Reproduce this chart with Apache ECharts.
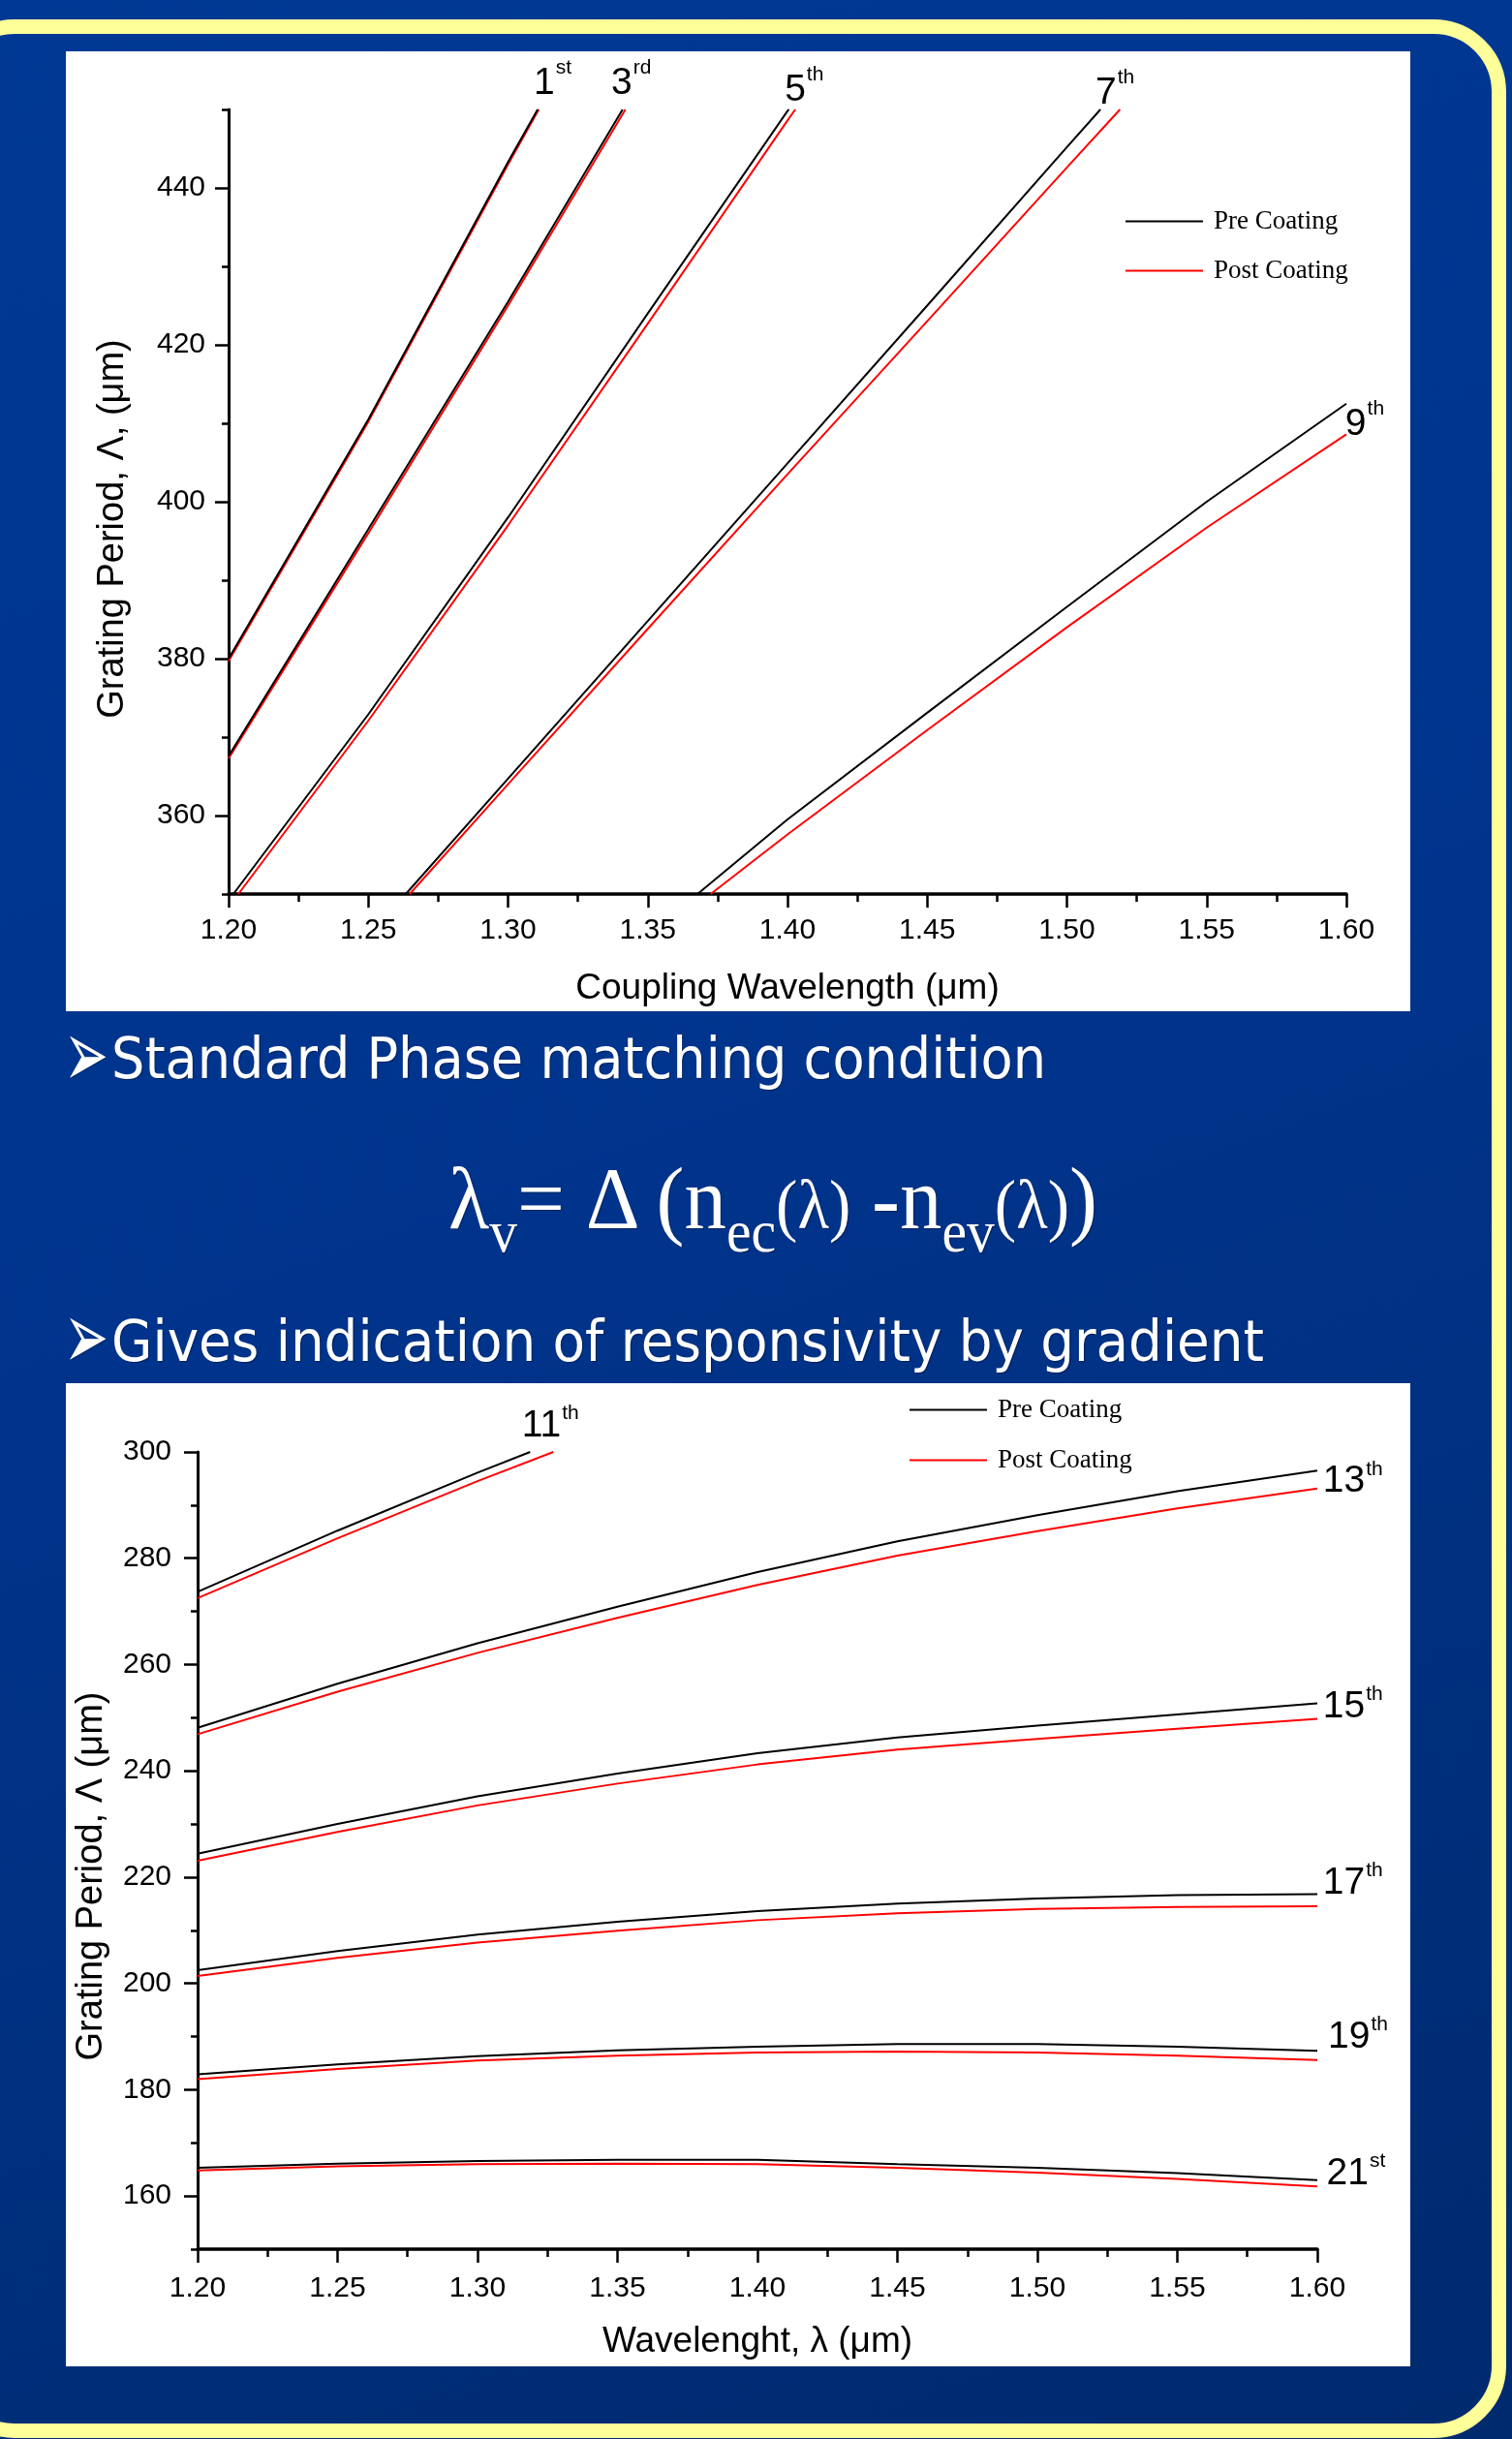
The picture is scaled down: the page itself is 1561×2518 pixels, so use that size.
<!DOCTYPE html>
<html><head><meta charset="utf-8">
<script src="https://cdn.jsdelivr.net/npm/echarts@6/dist/echarts.min.js"></script>
<style>
html,body{margin:0;padding:0;}
body{width:1561px;height:2518px;overflow:hidden;position:relative;background:linear-gradient(160deg,#003995 0%,#00348d 45%,#002a6e 100%);}
#frame{position:absolute;left:-60px;top:20px;width:1615px;height:2497px;box-sizing:border-box;border:15px solid #ffff99;border-radius:75px;}
.panel{position:absolute;background:#fff;}
.txt{position:absolute;color:#fff;white-space:nowrap;transform-origin:0 0;text-shadow:1px 1px 1px rgba(0,0,0,0.35);}
.bul{font-family:'DejaVu Sans Condensed','DejaVu Sans',sans-serif;font-size:59px;line-height:59px;}
.arr{font-family:'DejaVu Sans',sans-serif;font-size:98px;line-height:98px;}
.fm{font-family:'Liberation Serif','Times New Roman',serif;font-size:92px;line-height:92px;}
.sb{font-size:61px;position:relative;top:24px;}
.sm{font-size:71px;}
</style></head>
<body>
<div id="frame"></div>
<div id="p1" class="panel" style="left:68px;top:53px;width:1388px;height:991px"></div>
<div id="p2" class="panel" style="left:68px;top:1428px;width:1388px;height:1015px"></div>
<div id="a1" class="txt arr" style="left:66px;top:1039px">➢</div>
<div id="t1" class="txt bul" style="left:115px;top:1063px">Standard Phase matching condition</div>
<div id="fm" class="txt fm" style="left:463px;top:1191px">λ<span class="sb">v</span>= Δ (n<span class="sb">ec</span><span class="sm">(λ)</span> -n<span class="sb">ev</span><span class="sm">(λ)</span>)</div>
<div id="a2" class="txt arr" style="left:66px;top:1330px">➢</div>
<div id="t2" class="txt bul" style="left:115px;top:1355px">Gives indication of responsivity by gradient</div>
<script>
// ---------------- DATA ----------------
const xTicks = [1.20, 1.25, 1.30, 1.35, 1.40, 1.45, 1.50, 1.55, 1.60];
const xMinor = [1.225, 1.275, 1.325, 1.375, 1.425, 1.475, 1.525, 1.575];
const yTicks1 = [360, 380, 400, 420, 440];
const yMinor1 = [350, 370, 390, 410, 430, 450];
const yTicks2 = [160, 180, 200, 220, 240, 260, 280, 300];
const yMinor2 = [150, 170, 190, 210, 230, 250, 270, 290];

// Chart 1: Coupling wavelength (um) vs grating period (um), orders 1-9
const pre1  = [[1.20,380.0],[1.25,410.5],[1.30,443.3],[1.3106,450]];
const post1 = [[1.20,379.7],[1.25,410.2],[1.30,443.0],[1.3110,450]];
const pre3  = [[1.20,367.6],[1.25,396.5],[1.30,425.5],[1.341,450]];
const post3 = [[1.20,367.3],[1.25,396.0],[1.30,425.0],[1.342,450]];
const pre5  = [[1.2017,350],[1.25,372.9],[1.30,398.0],[1.35,424.0],[1.40,449.8],[1.4005,450]];
const post5 = [[1.2035,350],[1.25,372.1],[1.30,397.0],[1.35,422.7],[1.40,448.6],[1.4028,450]];
const pre7  = [[1.2634,350],[1.30,364.7],[1.35,384.8],[1.40,404.9],[1.45,425.0],[1.50,445.2],[1.512,450]];
const post7 = [[1.2648,350],[1.30,364.0],[1.35,383.8],[1.40,403.5],[1.45,423.0],[1.50,442.6],[1.519,450]];
const pre9  = [[1.3678,350],[1.40,359.5],[1.45,373.1],[1.50,386.6],[1.55,400.0],[1.60,412.5]];
const post9 = [[1.3725,350],[1.40,357.6],[1.45,370.9],[1.50,384.0],[1.55,396.7],[1.60,408.6]];

// Chart 2: wavelength (um) vs grating period (um), orders 11-21
const pre11  = [[1.20,273.7],[1.25,285.2],[1.30,296.1],[1.3188,300]];
const post11 = [[1.20,272.5],[1.25,283.75],[1.30,294.5],[1.3271,300]];
const pre13  = [[1.20,248.1],[1.25,256.4],[1.30,264.0],[1.35,270.9],[1.40,277.4],[1.45,283.2],[1.50,288.1],[1.55,292.6],[1.60,296.5]];
const post13 = [[1.20,246.9],[1.25,254.9],[1.30,262.2],[1.35,268.8],[1.40,275.0],[1.45,280.5],[1.50,285.1],[1.55,289.4],[1.60,293.1]];
const pre15  = [[1.20,224.4],[1.25,230.0],[1.30,235.2],[1.35,239.5],[1.40,243.3],[1.45,246.3],[1.50,248.5],[1.55,250.6],[1.60,252.7]];
const post15 = [[1.20,223.1],[1.25,228.5],[1.30,233.5],[1.35,237.6],[1.40,241.2],[1.45,244.0],[1.50,246.0],[1.55,247.9],[1.60,249.8]];
const pre17  = [[1.20,202.5],[1.25,206.1],[1.30,209.2],[1.35,211.6],[1.40,213.6],[1.45,215.0],[1.50,216.0],[1.55,216.6],[1.60,216.8]];
const post17 = [[1.20,201.4],[1.25,204.8],[1.30,207.7],[1.35,209.9],[1.40,211.9],[1.45,213.2],[1.50,214.0],[1.55,214.4],[1.60,214.5]];
const pre19  = [[1.20,182.9],[1.25,184.75],[1.30,186.3],[1.35,187.4],[1.40,188.1],[1.45,188.6],[1.50,188.6],[1.55,188.1],[1.60,187.3]];
const post19 = [[1.20,182.0],[1.25,183.9],[1.30,185.5],[1.35,186.4],[1.40,187.0],[1.45,187.2],[1.50,187.0],[1.55,186.4],[1.60,185.6]];
const pre21  = [[1.20,165.3],[1.25,166.1],[1.30,166.6],[1.35,166.8],[1.40,166.8],[1.45,166.0],[1.50,165.3],[1.55,164.3],[1.60,163.0]];
const post21 = [[1.20,164.8],[1.25,165.6],[1.30,166.0],[1.35,166.1],[1.40,166.0],[1.45,165.3],[1.50,164.4],[1.55,163.2],[1.60,161.8]];

// order annotations: [number, suffix, lambda, period] (anchor = text baseline-left)
const orderLabels1 = [['1','st',1.3099,451.85],['3','rd',1.3376,451.85],['5','th',1.3997,451.0],['7','th',1.5109,450.7],['9','th',1.6003,408.4]];
const orderLabels2 = [['11','th',1.3165,302.7],['13','th',1.6027,292.3],['15','th',1.6027,249.9],['17','th',1.6027,216.7],['19','th',1.6045,187.7],['21','st',1.6040,162.0]];

const legendNames = ['Pre Coating','Post Coating'];

// ---------------- BUILD ----------------
const F = "'Liberation Sans', Arial, sans-serif";
const FS = "'Liberation Serif', 'Times New Roman', serif";

function mkSeries(pairs) {
  const out = [];
  pairs.forEach(([pre, post]) => {
    out.push({type:'line', name:legendNames[1], data:post, showSymbol:false, symbol:'none', smooth:false,
      lineStyle:{color:'#ff0000', width:2}, itemStyle:{color:'#ff0000'}, z:2, silent:true});
    out.push({type:'line', name:legendNames[0], data:pre, showSymbol:false, symbol:'none', smooth:false,
      lineStyle:{color:'#000000', width:2}, itemStyle:{color:'#000000'}, z:3, silent:true});
  });
  return out;
}

function mkOption(cfg) {
  return {
    animation:false,
    backgroundColor:'#ffffff',
    grid:{left:cfg.grid[0], top:cfg.grid[1], width:cfg.grid[2], height:cfg.grid[3], containLabel:false},
    legend:{data:legendNames, orient:'vertical', left:cfg.legend[0], top:cfg.legend[1], itemWidth:80, itemHeight:14,
      itemGap:cfg.legend[2], icon:'path://M0,6 L80,6 L80,8 L0,8 Z',
      textStyle:{fontFamily:FS, fontSize:27, color:'#000', lineHeight:27, padding:[0,0,0,6]}, selectedMode:false},
    xAxis:[
      {type:'value', min:1.2, max:1.6, position:'bottom',
       name:cfg.xName, nameLocation:'middle', nameGap:cfg.xNameGap,
       nameTextStyle:{fontFamily:F, fontSize:37, color:'#000'},
       axisLine:{onZero:false, lineStyle:{color:'#000', width:3.5}},
       axisTick:{customValues:xTicks, length:14, lineStyle:{color:'#000', width:2.5}},
       axisLabel:{customValues:xTicks, formatter:v=>v.toFixed(2), fontFamily:F, fontSize:30, color:'#000', margin:cfg.xLabelMargin},
       splitLine:{show:false}},
      {type:'value', min:1.2, max:1.6, position:'bottom',
       axisLine:{show:false, onZero:false}, axisLabel:{show:false},
       axisTick:{customValues:xMinor, length:8, lineStyle:{color:'#000', width:2.5}},
       splitLine:{show:false}}
    ],
    yAxis:[
      {type:'value', min:cfg.yMin, max:cfg.yMax, position:'left',
       name:cfg.yName, nameLocation:'middle', nameGap:cfg.yNameGap,
       nameTextStyle:{fontFamily:F, fontSize:cfg.yNameSize, color:'#000', padding:[0,cfg.yNameShift,0,0]},
       axisLine:{onZero:false, lineStyle:{color:'#000', width:3}},
       axisTick:{customValues:cfg.yTicks, length:14, lineStyle:{color:'#000', width:2.5}},
       axisLabel:{customValues:cfg.yTicks, fontFamily:F, fontSize:30, color:'#000', margin:cfg.yLabelMargin},
       splitLine:{show:false}},
      {type:'value', min:cfg.yMin, max:cfg.yMax, position:'left',
       axisLine:{show:false, onZero:false}, axisLabel:{show:false},
       axisTick:{customValues:cfg.yMinor, length:7, lineStyle:{color:'#000', width:2.5}},
       splitLine:{show:false}}
    ],
    series:mkSeries(cfg.pairs)
  };
}

const mctx = document.createElement('canvas').getContext('2d');
function textW(t, size) { mctx.font = size + "px 'Liberation Sans', Arial, sans-serif"; return mctx.measureText(t).width; }

function orderGraphics(chart, labels, supRise) {
  const out = [];
  labels.forEach(([d, s, x, y]) => {
    const p = chart.convertToPixel({xAxisIndex:0, yAxisIndex:0}, [x, y]);
    const x0 = p[0] - 2, base = p[1];
    out.push({type:'text', x:x0, y:base + 8, z:100,
      style:{text:d, font:"39px 'Liberation Sans', Arial, sans-serif", fill:'#000', align:'left', verticalAlign:'bottom'}});
    out.push({type:'text', x:x0 + textW(d, 39) + 1, y:base - supRise + 4, z:100,
      style:{text:s, font:"21px 'Liberation Sans', Arial, sans-serif", fill:'#000', align:'left', verticalAlign:'bottom'}});
  });
  return out;
}

const c1 = echarts.init(document.getElementById('p1'), null, {renderer:'canvas'});
c1.setOption(mkOption({
  grid:[168,60,1154,812], legend:[1089,157,24],
  xName:'Coupling Wavelength (μm)', xNameGap:79, xLabelMargin:23,
  yName:'Grating Period, Λ, (μm)', yNameGap:100, yNameShift:56, yLabelMargin:24, yNameSize:38,
  yMin:350, yMax:450, yTicks:yTicks1, yMinor:yMinor1,
  pairs:[[pre1,post1],[pre3,post3],[pre5,post5],[pre7,post7],[pre9,post9]]
}));
c1.setOption({graphic:orderGraphics(c1, orderLabels1, 21)});

const c2 = echarts.init(document.getElementById('p2'), null, {renderer:'canvas'});
c2.setOption(mkOption({
  grid:[134,71,1158,823], legend:[866,9,25],
  xName:'Wavelenght, λ (μm)', xNameGap:77, xLabelMargin:26,
  yName:'Grating Period, Λ (μm)', yNameGap:90, yNameShift:53, yLabelMargin:27, yNameSize:38,
  yMin:150, yMax:300, yTicks:yTicks2, yMinor:yMinor2,
  pairs:[[pre11,post11],[pre13,post13],[pre15,post15],[pre17,post17],[pre19,post19],[pre21,post21]]
}));
c2.setOption({graphic:orderGraphics(c2, orderLabels2, 18)});

// fit slide texts horizontally to their measured extents
function fitW(id, w) {
  const el = document.getElementById(id);
  const cw = el.getBoundingClientRect().width;
  if (cw > 0) el.style.transform = 'scaleX(' + (w / cw) + ')';
}
fitW('t1', 965);
fitW('t2', 1190);
fitW('fm', 670);
fitW('a1', 46);
fitW('a2', 46);
</script>
</body></html>
